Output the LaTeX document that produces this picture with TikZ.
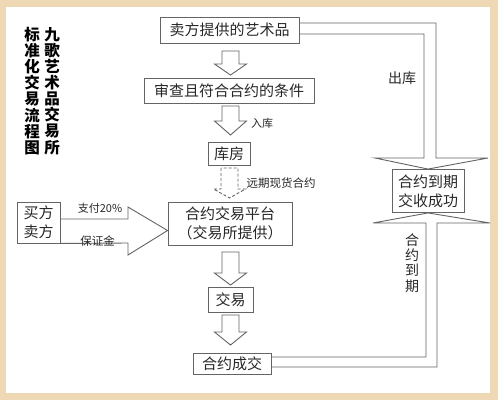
\documentclass[tikz,border=0pt]{standalone}
\usepackage{fontspec}
\newfontfamily\cjk{Noto Sans CJK SC}
\usetikzlibrary{calc}
\definecolor{framebg}{RGB}{239,216,180}
\definecolor{ln}{RGB}{100,100,100}
\definecolor{tx}{RGB}{40,40,40}
\newcommand\blockdown[5][]{%
  \draw[blockarrow,#1] (#2-8.5,#3) -- (#2-8.5,#4) -- (#2-16,#4) -- (#2,#5) -- (#2+16,#4) -- (#2+8.5,#4) -- (#2+8.5,#3) -- cycle;}
\begin{document}
\begin{tikzpicture}[x=1pt,y=-1pt,
  box/.style={draw=ln,line width=0.9pt,fill=white,inner sep=0pt,align=center,text=tx,
    font=\cjk\fontsize{15}{19}\selectfont},
  blockarrow/.style={draw=ln,line width=0.9pt,fill=white,line join=miter},
  channel/.style={draw=ln,line width=0.9pt,line join=miter},
  lbl/.style={text=tx,inner sep=0pt,font=\cjk\fontsize{11}{13}\selectfont},
  bigl/.style={text=tx,inner sep=0pt,align=center,font=\cjk\fontsize{14}{15.3}\selectfont},
  title/.style={text=black,inner sep=0pt,align=center,font=\cjk\bfseries\fontsize{15.5}{16.1}\selectfont},
]
\useasboundingbox (0,0) rectangle (498,400);
\fill[framebg] (0,0) rectangle (498,400);
\fill[white] (6,7) rectangle (490,393);

% title
\node[title] (t1) at (52,91) {九\\歌\\艺\\术\\品\\交\\易\\所};
\node[title] (t2) at (32,91) {标\\准\\化\\交\\易\\流\\程\\图};

% boxes
\node[box,minimum width=139pt,minimum height=26pt] (b1) at (229.5,30) {卖方提供的艺术品};
\node[box,minimum width=170pt,minimum height=25pt] (b2) at (229,91) {审查且符合合约的条件};
\node[box,minimum width=42pt,minimum height=23pt] (b3) at (229,153.5) {库房};
\node[box,minimum width=124pt,minimum height=43pt] (b4) at (230,223.5) {合约交易平台\\（交易所提供）};
\node[box,minimum width=43pt,minimum height=41pt] (bb) at (38.5,222.5) {买方\\卖方};
\node[box,minimum width=45pt,minimum height=25pt] (b5) at (230.5,299.5) {交易};
\node[box,minimum width=78pt,minimum height=21pt] (b6) at (232,363.5) {合约成交};
\node[box,minimum width=72pt,minimum height=43pt] (b7) at (428,191) {合约到期\\交收成功};

% vertical block arrows
\blockdown{230.5}{51}{64}{75}
\blockdown{230.5}{106}{121}{135}
\blockdown[dash pattern=on 3pt off 2pt]{229.5}{168}{189}{198}
\blockdown{230.5}{252}{273}{285}
\blockdown{230.5}{315}{332}{345}

% buyer/seller arrow
\draw[channel] ([yshift=3.5pt]bb.east) -- (128,219) -- (128,207) -- ([yshift=-7pt]b4.west)
  -- (128,255) -- (128,243) -- (bb.south east);

% channels to b7
\draw[channel] ([yshift=7pt]b1.east) -- (436,23) -- (436,158) -- (488,158) -- (b7.north)
  -- (375,158) -- (424,158) -- (424,34) -- ([yshift=-4pt]b1.east);
\draw[channel] ([yshift=-3.5pt]b6.east) -- (437,367) -- (437,223) -- (490,223) -- (b7.south)
  -- (373,223) -- (426,223) -- (426,357) -- ([yshift=6.5pt]b6.east);

% labels
\node[bigl] (l1) at (402,78) {出库};
\node[bigl] (l2) at (412,263) {合\\约\\到\\期};
\node[lbl] (l3) at (262,123) {入库};
\node[lbl,font=\cjk\fontsize{11.5}{13}\selectfont] (l4) at (281,183) {远期现货合约};
\node[lbl] (l5) at (100,208) {支付20\%};
\node[lbl,font=\cjk\fontsize{11.5}{13}\selectfont] (l6) at (97.5,241) {保证金};
\end{tikzpicture}
\end{document}
